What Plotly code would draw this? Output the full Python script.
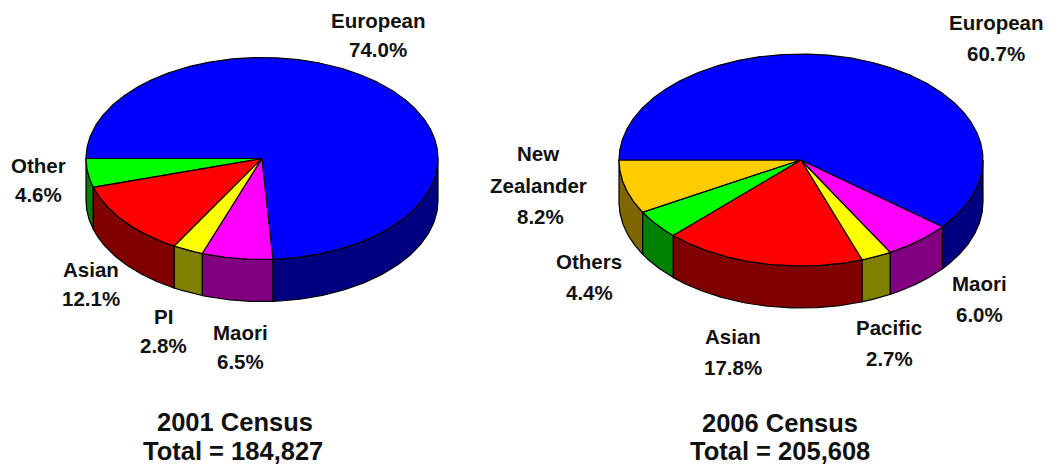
import numpy as np
import plotly.graph_objects as go

# ---- data ----
names_2001 = ["Other", "Asian", "PI", "Maori", "European"]
values_2001 = [4.6, 12.1, 2.8, 6.5, 74.0]
names_2006 = ["New Zealander", "Others", "Asian", "Pacific", "Maori", "European"]
values_2006 = [8.2, 4.4, 17.8, 2.7, 6.0, 60.7]
caption_2001 = ["2001 Census", "Total = 184,827"]
caption_2006 = ["2006 Census", "Total = 205,608"]

TOP = {"Other": "#00FF00", "Others": "#00FF00", "Asian": "#FF0000", "PI": "#FFFF00", "Pacific": "#FFFF00",
       "Maori": "#FF00FF", "European": "#0000FF", "New Zealander": "#FFCC00"}
SIDE = {"Other": "#008000", "Others": "#008000", "Asian": "#800000", "PI": "#808000", "Pacific": "#808000",
        "Maori": "#800080", "European": "#000080", "New Zealander": "#806600"}

fig = go.Figure()


def add_poly(x, y, color):
    fig.add_trace(go.Scatter(x=x, y=y, mode="lines", fill="toself", fillcolor=color,
                             line=dict(color="black", width=1.2), hoverinfo="skip", showlegend=False))


def pie3d(names, values, cx, cy, rx, ry, depth):
    total = sum(values)
    start = 180.0
    spans = []
    for v in values:
        end = start + 360.0 * v / total
        spans.append((start, end))
        start = end
    # sides (only the front half of the rim is visible)
    for n, (a, b) in zip(names, spans):
        lo, hi = max(a, 180.0), min(b, 360.0)
        if hi <= lo:
            continue
        t = np.radians(np.linspace(lo, hi, 80))
        px = cx + rx * np.cos(t)
        py = cy - ry * np.sin(t)
        add_poly(np.r_[px, px[::-1], px[0]], np.r_[py, py[::-1] + depth, py[0]], SIDE[n])
    # top faces
    for n, (a, b) in zip(names, spans):
        t = np.radians(np.linspace(a, b, max(int(b - a) * 2, 8)))
        add_poly(np.r_[cx, cx + rx * np.cos(t), cx], np.r_[cy, cy - ry * np.sin(t), cy], TOP[n])


pie3d(names_2001, values_2001, 262, 158.5, 176, 101, 42)
pie3d(names_2006, values_2006, 801, 160, 182, 106, 42)


def txt(x, y, s, size=20.5, bold=True):
    fig.add_annotation(x=x, y=y, text=f"<b>{s}</b>" if bold else s, showarrow=False, xanchor="center",
                       yanchor="middle", font=dict(family="Liberation Sans", size=size, color="#111111"))


def pct(v):
    return f"{v:.1f}%"


LINE = 29
labels_2001 = {"European": (378, 20), "Other": (38, 165), "Asian": (91, 269), "PI": (163, 316), "Maori": (240, 332)}
for n, v in zip(names_2001, values_2001):
    x, y = labels_2001[n]
    txt(x, y, n)
    txt(x, y + LINE, pct(v))

labels_2006 = {"European": (996, 22), "Others": (589, 261), "Asian": (733, 336), "Pacific": (889, 327), "Maori": (979, 283)}
for n, v in zip(names_2006, values_2006):
    if n == "New Zealander":
        txt(538, 153, "New")
        txt(538, 185, "Zealander")
        txt(540, 216, pct(v))
        continue
    x, y = labels_2006[n]
    txt(x, y, n)
    txt(x, y + 31, pct(v))

txt(235, 422, caption_2001[0], 25.5)
txt(233, 451, caption_2001[1], 25.5)
txt(780, 423, caption_2006[0], 25.5)
txt(780, 451, caption_2006[1], 25.5)

fig.update_layout(width=1058, height=467, margin=dict(l=0, r=0, t=0, b=0), paper_bgcolor="white",
                  plot_bgcolor="white", showlegend=False,
                  xaxis=dict(range=[0, 1058], visible=False, fixedrange=True),
                  yaxis=dict(range=[467, 0], visible=False, fixedrange=True))
fig.write_html("out.html", config={"displayModeBar": False},
               post_script="document.body.style.margin='0';document.documentElement.style.overflow='hidden';")
